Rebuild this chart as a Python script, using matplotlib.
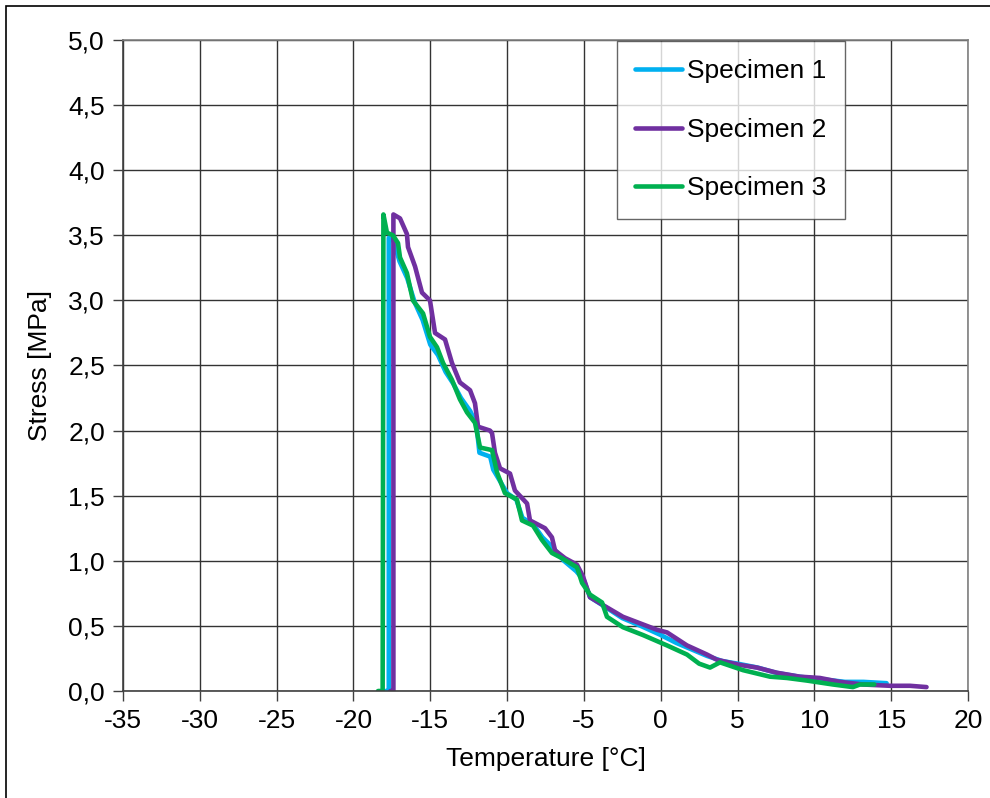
import numpy as np
import matplotlib.pyplot as plt
from matplotlib.patches import Rectangle

plt.rcParams['font.family'] = ['Liberation Sans', 'DejaVu Sans']

# Specimen 1 (blue)
temp_1 = [-17.9, -17.7, -17.7, -17.4, -17.0, -16.5, -16.0, -15.5, -15.0, -14.5, -14.0,
          -13.5, -13.0, -12.4, -12.0, -11.8, -11.1, -10.9, -10.5, -10.0, -9.4, -9.0,
          -8.3, -7.7, -7.0, -6.3, -5.5, -5.0, -4.6, -3.8, -2.5, -1.3, 0.0, 1.0, 2.0,
          3.0, 4.0, 5.0, 6.3, 7.5, 9.0, 10.5, 12.0, 13.2, 14.7]
stress_1 = [0.0, 0.0, 3.48, 3.46, 3.30, 3.17, 2.98, 2.85, 2.66, 2.58, 2.45,
            2.36, 2.25, 2.15, 2.05, 1.83, 1.80, 1.70, 1.62, 1.52, 1.47, 1.33,
            1.28, 1.18, 1.10, 1.00, 0.92, 0.85, 0.72, 0.66, 0.56, 0.50, 0.43, 0.37, 0.32,
            0.27, 0.23, 0.21, 0.18, 0.14, 0.11, 0.09, 0.07, 0.07, 0.06]

# Specimen 2 (purple)
temp_2 = [-17.6, -17.4, -17.4, -16.97, -16.52, -16.45, -15.99, -15.54, -15.02, -14.69,
          -14.04, -13.59, -13.07, -12.41, -12.09, -11.89, -11.11, -10.98, -10.79, -10.46,
          -9.81, -9.49, -8.70, -8.51, -7.53, -7.08, -6.88, -6.23, -5.45, -5.06, -4.60,
          -3.76, -2.46, -1.35, -0.24, 0.41, 1.71, 3.01, 3.66, 5.16, 6.26, 7.57, 9.06,
          10.36, 11.67, 13.16, 14.92, 16.22, 17.3]
stress_2 = [0.0, 0.0, 3.66, 3.63, 3.51, 3.41, 3.26, 3.06, 3.00, 2.75,
            2.70, 2.52, 2.37, 2.31, 2.21, 2.03, 2.00, 1.98, 1.83, 1.71,
            1.67, 1.54, 1.44, 1.31, 1.25, 1.18, 1.08, 1.02, 0.97, 0.88, 0.72,
            0.66, 0.57, 0.52, 0.47, 0.45, 0.35, 0.28, 0.24, 0.20, 0.18, 0.14, 0.11,
            0.10, 0.07, 0.05, 0.04, 0.04, 0.03]

# Specimen 3 (green)
temp_3 = [-18.4, -18.1, -18.05, -17.82, -17.43, -17.10, -16.97, -16.52, -16.13, -15.47,
          -15.02, -14.56, -14.17, -13.59, -13.07, -12.61, -12.09, -11.76, -10.98, -10.66,
          -10.14, -9.36, -9.03, -8.31, -7.73, -7.08, -6.43, -5.45, -5.12, -4.60, -3.82,
          -3.50, -2.46, -1.16, 0.41, 1.71, 2.5, 3.21, 3.86, 5.36, 7.11, 8.22, 9.52,
          11.21, 12.51, 12.97, 13.9]
stress_3 = [0.0, 0.0, 3.66, 3.52, 3.50, 3.44, 3.33, 3.21, 3.00, 2.90,
            2.72, 2.64, 2.52, 2.39, 2.24, 2.14, 2.06, 1.87, 1.85, 1.68,
            1.52, 1.47, 1.31, 1.27, 1.16, 1.06, 1.02, 0.95, 0.83, 0.74, 0.68,
            0.57, 0.49, 0.43, 0.35, 0.28, 0.21, 0.18, 0.22, 0.16, 0.11, 0.10, 0.08,
            0.05, 0.03, 0.05, 0.05]

labels = ['Specimen 1', 'Specimen 2', 'Specimen 3']
colors = ['#00B0F0', '#7030A0', '#00B050']
x_ticks = np.arange(-35, 21, 5)
y_ticks = np.arange(0, 5.01, 0.5)

fs = 19

fig = plt.figure(figsize=(9.9, 7.98), dpi=100)
ax = fig.add_axes([123 / 990, 1 - 691 / 798, 845 / 990, 651 / 798])

for t, s, lab, c in zip([temp_1, temp_2, temp_3], [stress_1, stress_2, stress_3], labels, colors):
    ax.plot(t, s, color=c, lw=3.3, label=lab, solid_capstyle='round', solid_joinstyle='round')

ax.set_xlim(-35, 20)
ax.set_ylim(0, 5)
ax.set_xticks(x_ticks)
ax.set_yticks(y_ticks)
ax.set_xticklabels([str(v) for v in x_ticks])
ax.set_yticklabels([f'{v:.1f}'.replace('.', ',') for v in y_ticks])
ax.tick_params(direction='out', length=7, width=1, colors='#404040', labelcolor='black',
               labelsize=fs)
ax.tick_params(axis='y', pad=6)
ax.tick_params(axis='x', pad=6)
ax.grid(True, color='#333333', lw=1)
ax.set_axisbelow(True)
for side in ['top', 'right']:
    ax.spines[side].set_color('#808080')
for side in ['left', 'bottom']:
    ax.spines[side].set_color('#404040')
for sp in ax.spines.values():
    sp.set_linewidth(1.2)

ax.set_xlabel('Temperature [°C]', fontsize=fs, labelpad=10)
ax.set_ylabel('Stress [MPa]', fontsize=fs, labelpad=12)

leg = ax.legend(loc='upper left', bbox_to_anchor=((617 - 123) / 845, 1 - 1 / 651),
                fontsize=fs, frameon=True, fancybox=False, edgecolor='#404040',
                handlelength=1.75, handletextpad=0.2, labelspacing=1.3,
                borderpad=0.7, borderaxespad=0)
leg.get_frame().set_linewidth(1)

fig.patches.append(Rectangle((6 / 990, -0.1), 1.2, 1 - 6 / 798 + 0.1, transform=fig.transFigure,
                             fill=False, edgecolor='black', lw=1.2))

fig.savefig('out.png', dpi=100)
